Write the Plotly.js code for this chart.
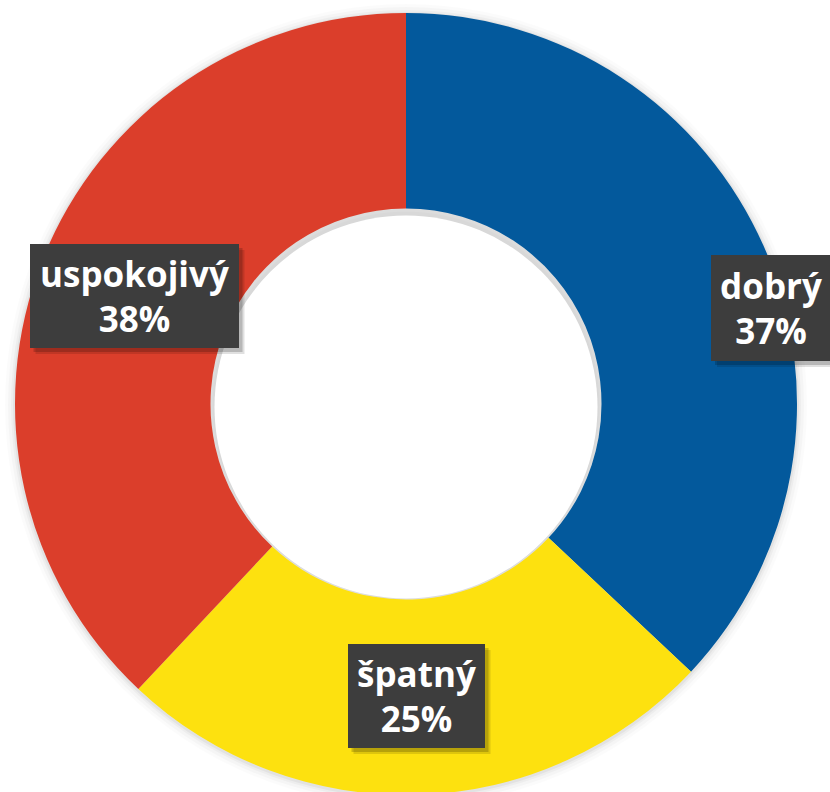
<!DOCTYPE html>
<html>
<head>
<meta charset="utf-8">
<script src="https://cdn.plot.ly/plotly-3.0.1.min.js"></script>
<style>html,body{margin:0;padding:0;overflow:hidden;background:#fff;}#chart{width:830px;height:800px;}</style>
</head>
<body>
<div id="chart"></div>
<script>
const categories = ["dobrý", "špatný", "uspokojivý"];
const values = [37, 25, 38];
const colors = ["#03599c", "#fde10f", "#db3e2b"];
// label box centre and size, pixels
const labelBoxes = [[771, 308, 120, 106], [416, 696, 137, 104], [134, 296, 209, 104]];

const W = 830, H = 800;
const cx = 406, cy = 404, r = 391, holeFrac = 0.5;

const trace = {
  type: "pie",
  labels: categories,
  values: values,
  sort: false,
  direction: "clockwise",
  rotation: 0,
  hole: holeFrac,
  marker: {colors: colors, line: {width: 0}},
  textinfo: "none",
  hoverinfo: "label+percent",
  domain: {x: [(cx - r) / W, (cx + r) / W], y: [1 - (cy + r) / H, 1 - (cy - r) / H]},
  showlegend: false
};

const total = values.reduce((a, b) => a + b, 0);
const annotations = [];
const shapes = [];
function circ(rad, fill, dy) {
  return {type: "circle", xref: "paper", yref: "paper", layer: "below",
    x0: (cx - rad) / W, x1: (cx + rad) / W,
    y0: 1 - (cy + dy + rad) / H, y1: 1 - (cy + dy - rad) / H,
    fillcolor: fill, line: {width: 0}};
}
// soft shadow around the donut
[[10, 0.015], [7, 0.022], [4, 0.03], [2, 0.045]].forEach(([d, a]) => shapes.push(circ(r + d, "rgba(0,0,0," + a + ")", 1)));
// keep the hole white, with a faint inner shadow
shapes.push(circ(r * holeFrac, "rgba(0,0,0,0.025)", 0));
shapes.push(circ(r * holeFrac - 2, "rgba(0,0,0,0.015)", 1));
shapes.push(circ(r * holeFrac - 4, "#ffffff", 3));

categories.forEach((c, i) => {
  const [bx, by, bw, bh] = labelBoxes[i];
  // box shadow
  [[6, 0.12], [4, 0.18]].forEach(([o, a]) => {
    shapes.push({type: "rect", xref: "paper", yref: "paper", layer: "above",
      x0: (bx - bw / 2 + o) / W, x1: (bx + bw / 2 + o) / W,
      y0: 1 - (by + bh / 2 + o) / H, y1: 1 - (by - bh / 2 + o) / H,
      fillcolor: "rgba(0,0,0," + a + ")", line: {width: 0}});
  });
  annotations.push({xref: "paper", yref: "paper", x: bx / W, y: 1 - by / H,
    xanchor: "center", yanchor: "middle", showarrow: false,
    text: c + "<br>" + Math.round(values[i] / total * 100) + "%",
    width: bw, height: bh, align: "center", valign: "middle",
    borderpad: 0, borderwidth: 0, bgcolor: "#3d3d3d",
    font: {family: "Open Sans", size: 35, weight: 700, color: "#ffffff"}});
});

Plotly.newPlot("chart", [trace], {
  width: W, height: H,
  margin: {l: 0, r: 0, t: 0, b: 0},
  paper_bgcolor: "#ffffff",
  annotations: annotations,
  shapes: shapes
}, {displayModeBar: false, staticPlot: true});
</script>
</body>
</html>
